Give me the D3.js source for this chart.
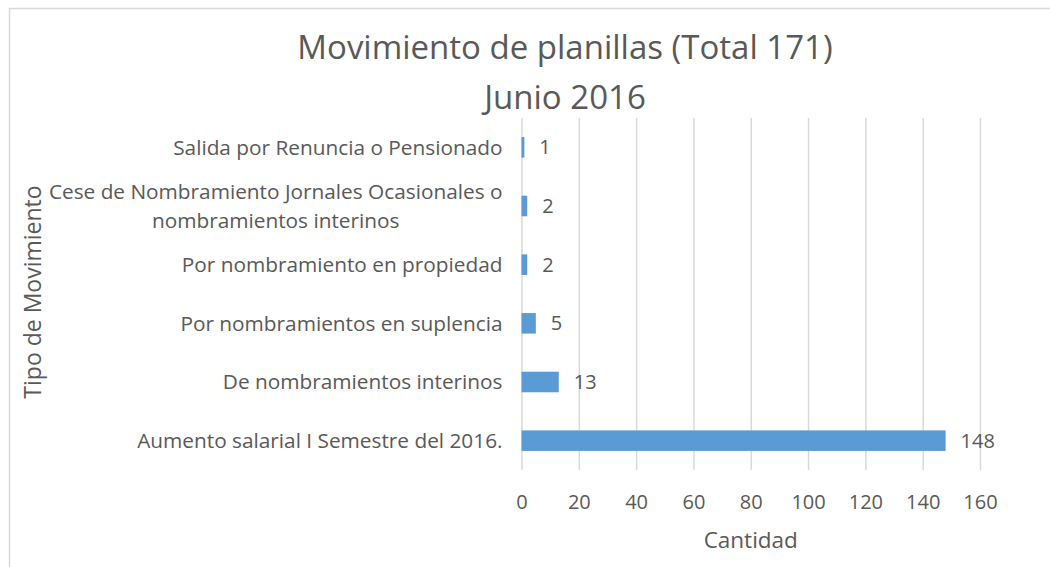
<!DOCTYPE html>
<html>
<head>
<meta charset="utf-8">
<script src="https://cdn.jsdelivr.net/npm/d3@7"></script>
<style>
  body { margin: 0; background: #fff; }
  text { font-family: "Open Sans", sans-serif; fill: #595959; }
</style>
</head>
<body>
<div id="chart"></div>
<script>
// datos (de arriba hacia abajo)
const categorias = [
  "Salida por Renuncia o Pensionado",
  "Cese de Nombramiento Jornales Ocasionales o nombramientos interinos",
  "Por nombramiento en propiedad",
  "Por nombramientos en suplencia",
  "De nombramientos interinos",
  "Aumento salarial I Semestre del 2016."
];
const cantidades = [1, 2, 2, 5, 13, 148];
const ticksX = [0, 20, 40, 60, 80, 100, 120, 140, 160];
const titulo = ["Movimiento de planillas (Total 171)", "Junio 2016"];

const W = 1050, H = 567;
const margin = { top: 118, right: 70, bottom: 97, left: 521.5 };
const width = W - margin.left - margin.right;
const height = H - margin.top - margin.bottom;

const svg = d3.select("#chart").append("svg")
  .attr("width", W).attr("height", H);

// borde del area del grafico
svg.append("rect")
  .attr("x", 9.5).attr("y", 8.5)
  .attr("width", 1100).attr("height", 600)
  .attr("fill", "none").attr("stroke", "#d9d9d9").attr("stroke-width", 1.5);

const g = svg.append("g").attr("transform", `translate(${margin.left},${margin.top})`);

let x = d3.scaleLinear().domain([0, 160]).range([0, width]);
let y = d3.scaleBand().domain(categorias).range([0, height]).paddingInner(0.65).paddingOuter(0.325);

// rejilla
g.append("g")
  .attr("class", "grid")
  .call(d3.axisBottom(x).tickValues(ticksX).tickSize(height).tickFormat(""))
  .call(a => a.select(".domain").remove())
  .selectAll("line").attr("stroke", "#d9d9d9").attr("stroke-width", 1.5);

// eje X
g.append("g")
  .attr("transform", `translate(0,${height})`)
  .call(d3.axisBottom(x).tickValues(ticksX).tickSize(0).tickPadding(25))
  .call(a => a.select(".domain").remove())
  .selectAll("text")
  .style("font-size", "20px").attr("fill", "#595959");

// barras
g.selectAll("rect.bar")
  .data(cantidades)
  .enter().append("rect")
  .attr("class", "bar")
  .attr("x", x(0))
  .attr("y", (d, i) => y(categorias[i]))
  .attr("width", d => x(d) - x(0))
  .attr("height", y.bandwidth())
  .attr("fill", "#5b9bd5");

// etiquetas de datos
g.selectAll("text.val")
  .data(cantidades)
  .enter().append("text")
  .attr("class", "val")
  .attr("x", d => x(d) + 15)
  .attr("y", (d, i) => y(categorias[i]) + y.bandwidth() / 2)
  .attr("dy", "0.35em")
  .style("font-size", "20px")
  .text(d => d);

// etiquetas de categorias (con ajuste de linea)
const cat = g.selectAll("text.cat")
  .data(categorias)
  .enter().append("text")
  .attr("class", "cat")
  .style("font-size", "20.8px")
  .attr("text-anchor", "middle");

cat.each(function (d, i) {
  const t = d3.select(this);
  const words = d.split(" ");
  const lines = [];
  let line = [];
  t.text(d);
  if (this.getComputedTextLength() > 475) {
    const probe = t.text("");
    for (const w of words) {
      line.push(w);
      probe.text(line.join(" "));
      if (this.getComputedTextLength() > 475 && line.length > 1) {
        line.pop();
        lines.push(line.join(" "));
        line = [w];
      }
    }
    lines.push(line.join(" "));
  } else {
    lines.push(d);
  }
  t.text("");
  // ancho maximo para alinear a la derecha el bloque
  let maxW = 0;
  lines.forEach(l => {
    t.text(l);
    maxW = Math.max(maxW, this.getComputedTextLength());
  });
  t.text("");
  const cy = y(d) + y.bandwidth() / 2;
  const lh = 29;
  const cx = -19 - maxW / 2;
  lines.forEach((l, k) => {
    t.append("tspan")
      .attr("x", cx)
      .attr("y", cy + (k - (lines.length - 1) / 2) * lh)
      .attr("dy", "0.35em")
      .text(l);
  });
});

// titulo
svg.append("text")
  .attr("text-anchor", "middle")
  .style("font-size", "33px")
  .selectAll("tspan")
  .data(titulo)
  .enter().append("tspan")
  .attr("x", 565)
  .attr("y", (d, i) => 47 + i * 50)
  .attr("dy", "0.35em")
  .text(d => d);

// titulo eje X
svg.append("text")
  .attr("x", margin.left + width / 2)
  .attr("y", 540)
  .attr("dy", "0.35em")
  .attr("text-anchor", "middle")
  .style("font-size", "22.5px")
  .text("Cantidad");

// titulo eje Y
svg.append("text")
  .attr("transform", "translate(33,292) rotate(-90)")
  .attr("dy", "0.35em")
  .attr("text-anchor", "middle")
  .style("font-size", "23px")
  .text("Tipo de Movimiento");
</script>
</body>
</html>
